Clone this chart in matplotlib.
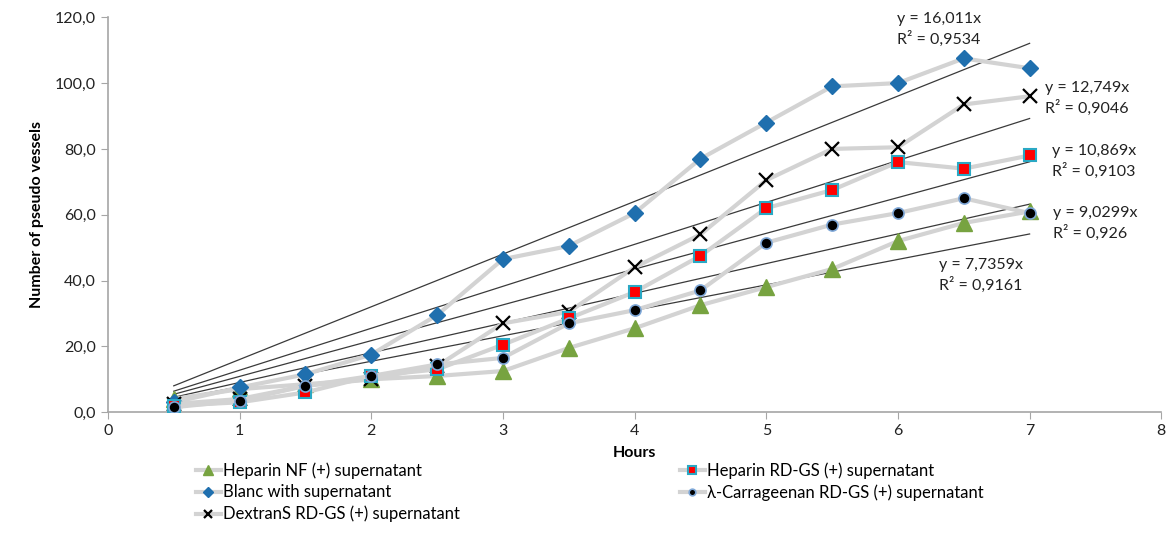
import matplotlib.pyplot as plt
import numpy as np

plt.rcParams['font.family'] = ['Lato', 'DejaVu Sans']

# Data (hours vs number of pseudo vessels)
hours = [0.5, 1, 1.5, 2, 2.5, 3, 3.5, 4, 4.5, 5, 5.5, 6, 6.5, 7]
heparin_nf = [4.0, 7.0, 8.5, 10.0, 11.0, 12.5, 19.5, 25.5, 32.5, 38.0, 43.5, 52.0, 57.5, 61.0]
blanc = [3.0, 7.5, 11.5, 17.5, 29.5, 46.5, 50.5, 60.5, 77.0, 88.0, 99.0, 100.0, 107.5, 104.5]
dextrans = [2.5, 4.0, 8.0, 10.0, 14.0, 27.0, 30.5, 44.0, 54.0, 70.5, 80.0, 80.5, 93.5, 96.0]
heparin_rd = [2.0, 3.0, 6.0, 11.0, 13.0, 20.5, 28.5, 36.5, 47.5, 62.0, 67.5, 76.0, 74.0, 78.0]
carrageenan = [1.5, 3.5, 8.0, 11.0, 14.5, 16.5, 27.0, 31.0, 37.0, 51.5, 57.0, 60.5, 65.0, 60.5]

# Linear trendlines through origin (Excel)
slopes = [16.011, 12.749, 10.869, 9.0299, 7.7359]
r2 = ["0,9534", "0,9046", "0,9103", "0,926", "0,9161"]
slope_txt = ["16,011", "12,749", "10,869", "9,0299", "7,7359"]

fig = plt.figure(figsize=(11.73, 5.57), dpi=100)
ax = fig.add_axes([0.092, 0.26, 0.898, 0.709])

line_col = "#d3d3d3"
lw = 3

ax.plot(hours, heparin_nf, color=line_col, lw=lw, marker='^', ms=11,
        mfc='#77a340', mec='#77a340', label='Heparin NF (+) supernatant', zorder=3)
ax.plot(hours, blanc, color=line_col, lw=lw, marker='D', ms=8,
        mfc='#1f6fae', mec='#1f6fae', label='Blanc with supernatant', zorder=3)
ax.plot(hours, dextrans, color=line_col, lw=lw, marker='x', ms=10, mew=1.6,
        mec='black', label='DextranS RD-GS (+) supernatant', zorder=3)
ax.plot(hours, heparin_rd, color=line_col, lw=lw, marker='s', ms=9, mew=1.5,
        mfc='#ff0000', mec='#2aa8c4', label='Heparin RD-GS (+) supernatant', zorder=3)
ax.plot(hours, carrageenan, color=line_col, lw=lw, marker='o', ms=8, mew=1.2,
        mfc='black', mec='#7fa8d8', label='λ-Carrageenan RD-GS (+) supernatant', zorder=3)

xt = np.array([hours[0], hours[-1]])
for k in slopes:
    ax.plot(xt, k * xt, color='#3a3a3a', lw=0.9, zorder=2)

tk = dict(fontsize=11.5, color='#222222', linespacing=1.35)
ax.text(6.31, 121.5, f"y = {slope_txt[0]}x\nR² = {r2[0]}", ha='center', va='top', **tk)
ax.text(7.12, 100.5, f"y = {slope_txt[1]}x\nR² = {r2[1]}", ha='left', va='top', **tk)
ax.text(7.17, 81.5, f"y = {slope_txt[2]}x\nR² = {r2[2]}", ha='left', va='top', **tk)
ax.text(7.18, 62.5, f"y = {slope_txt[3]}x\nR² = {r2[3]}", ha='left', va='top', **tk)
ax.text(6.63, 46.8, f"y = {slope_txt[4]}x\nR² = {r2[4]}", ha='center', va='top', **tk)

ax.set_xlim(0, 8)
ax.set_ylim(0, 120)
ax.set_xticks(range(0, 9))
ax.set_yticks(range(0, 121, 20))
ax.set_yticklabels([f"{v},0" for v in range(0, 121, 20)])
ax.tick_params(labelsize=11.5, colors='#222222', length=5, color='#a6a6a6')
for s in ['top', 'right']:
    ax.spines[s].set_visible(False)
for s in ['left', 'bottom']:
    ax.spines[s].set_color('#a6a6a6')
    ax.spines[s].set_linewidth(1.2)

ax.set_xlabel("Hours", fontsize=11.5, fontweight='bold', labelpad=6)
ax.set_ylabel("Number of pseudo vessels", fontsize=11.5, fontweight='bold', labelpad=8)

fig.legend(loc='upper left', bbox_to_anchor=(0.161, 0.182), ncol=2, frameon=False,
           prop={'family': ['Lato', 'DejaVu Sans'], 'size': 12},
           columnspacing=13.2, handlelength=1.5, handletextpad=0.15,
           labelspacing=0.33, borderaxespad=0, markerscale=0.6)

plt.savefig("out.png", dpi=100)
plt.close()
